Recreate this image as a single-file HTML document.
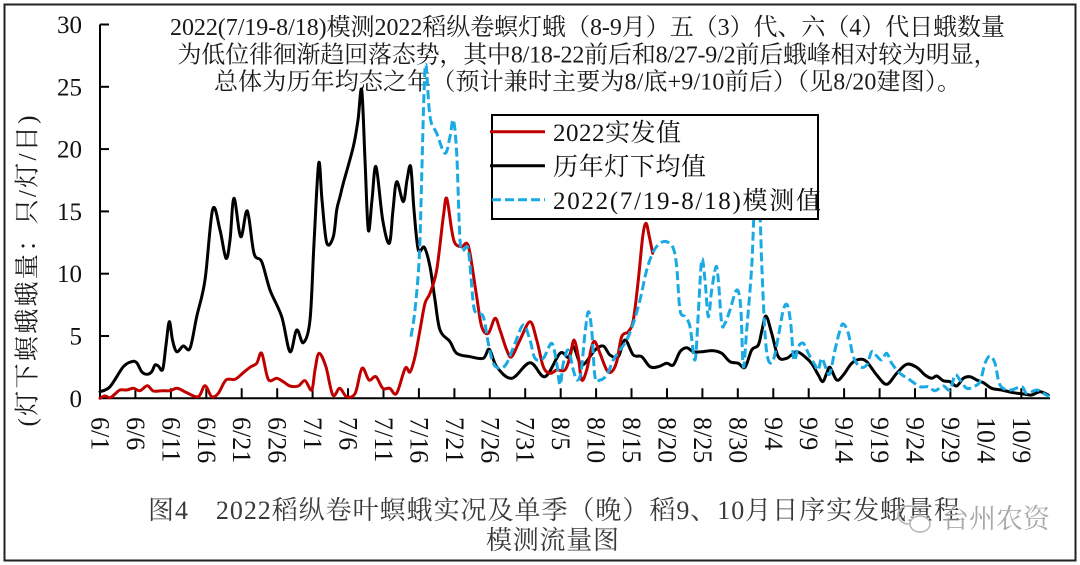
<!DOCTYPE html>
<html><head><meta charset="utf-8"><style>
html,body{margin:0;padding:0;background:#fff;}
svg{display:block;}
text{font-family:"Liberation Serif","Noto Serif CJK SC","Noto Serif CJK","Noto Sans CJK SC",serif;}
</style></head><body>
<svg id="chart" width="1080" height="565" viewBox="0 0 1080 565" xmlns="http://www.w3.org/2000/svg">
<rect x="0" y="0" width="1080" height="565" fill="#fff"/>
<rect x="4.5" y="4.5" width="1071" height="556" fill="none" stroke="#222" stroke-width="2"/>

<!-- title -->
<g font-size="24" fill="#1a1a1a" text-anchor="middle">
<text x="587.5" y="35" textLength="835" lengthAdjust="spacing">2022(7/19-8/18)模测2022稻纵卷螟灯蛾（8-9月）五（3）代、六（4）代日蛾数量</text>
<text x="587.5" y="62.5" textLength="820" lengthAdjust="spacing">为低位徘徊渐趋回落态势，其中8/18-22前后和8/27-9/2前后蛾峰相对较为明显，</text>
<text x="587.5" y="89.5" textLength="747" lengthAdjust="spacing">总体为历年均态之年（预计兼时主要为8/底+9/10前后）（见8/20建图）。</text>
</g>

<!-- y axis title -->
<text transform="translate(28,271) rotate(-90)" x="0" y="0" font-size="25" text-anchor="middle" dominant-baseline="central" fill="#1a1a1a" textLength="311" lengthAdjust="spacing">(灯下螟蛾蛾量：只/灯/日)</text>

<!-- y tick labels -->
<g font-size="25" fill="#111" text-anchor="end">
<text x="82" y="407">0</text>
<text x="82" y="344.5">5</text>
<text x="82" y="282">10</text>
<text x="82" y="220">15</text>
<text x="82" y="157.5">20</text>
<text x="82" y="95.5">25</text>
<text x="82" y="33">30</text>
</g>

<!-- axes -->
<g stroke="#000" stroke-width="2" fill="none">
<line x1="100" y1="24.5" x2="100" y2="399.3"/>
<line x1="99" y1="398.3" x2="1050" y2="398.3"/>
<line x1="100" y1="24.5" x2="109" y2="24.5"/>
<line x1="100" y1="86.8" x2="109" y2="86.8"/>
<line x1="100" y1="149.1" x2="109" y2="149.1"/>
<line x1="100" y1="211.4" x2="109" y2="211.4"/>
<line x1="100" y1="273.7" x2="109" y2="273.7"/>
<line x1="100" y1="336" x2="109" y2="336"/>
<path d="M135.4 398.3V388.3 M170.9 398.3V388.3 M206.3 398.3V388.3 M241.7 398.3V388.3 M277.2 398.3V388.3 M312.6 398.3V388.3 M348 398.3V388.3 M383.5 398.3V388.3 M418.9 398.3V388.3 M454.4 398.3V388.3 M489.8 398.3V388.3 M525.2 398.3V388.3 M560.7 398.3V388.3 M596.1 398.3V388.3 M631.5 398.3V388.3 M667 398.3V388.3 M702.4 398.3V388.3 M737.8 398.3V388.3 M773.3 398.3V388.3 M808.7 398.3V388.3 M844.1 398.3V388.3 M879.6 398.3V388.3 M915 398.3V388.3 M950.4 398.3V388.3 M985.9 398.3V388.3 M1021.3 398.3V388.3"/>
</g>

<!-- x tick labels -->
<g font-size="26" fill="#111" dominant-baseline="central">
<text transform="translate(100,417) rotate(90)">6/1</text>
<text transform="translate(135.4,417) rotate(90)">6/6</text>
<text transform="translate(170.9,417) rotate(90)">6/11</text>
<text transform="translate(206.3,417) rotate(90)">6/16</text>
<text transform="translate(241.7,417) rotate(90)">6/21</text>
<text transform="translate(277.2,417) rotate(90)">6/26</text>
<text transform="translate(312.6,417) rotate(90)">7/1</text>
<text transform="translate(348,417) rotate(90)">7/6</text>
<text transform="translate(383.5,417) rotate(90)">7/11</text>
<text transform="translate(418.9,417) rotate(90)">7/16</text>
<text transform="translate(454.4,417) rotate(90)">7/21</text>
<text transform="translate(489.8,417) rotate(90)">7/26</text>
<text transform="translate(525.2,417) rotate(90)">7/31</text>
<text transform="translate(560.7,417) rotate(90)">8/5</text>
<text transform="translate(596.1,417) rotate(90)">8/10</text>
<text transform="translate(631.5,417) rotate(90)">8/15</text>
<text transform="translate(667,417) rotate(90)">8/20</text>
<text transform="translate(702.4,417) rotate(90)">8/25</text>
<text transform="translate(737.8,417) rotate(90)">8/30</text>
<text transform="translate(773.3,417) rotate(90)">9/4</text>
<text transform="translate(808.7,417) rotate(90)">9/9</text>
<text transform="translate(844.1,417) rotate(90)">9/14</text>
<text transform="translate(879.6,417) rotate(90)">9/19</text>
<text transform="translate(915,417) rotate(90)">9/24</text>
<text transform="translate(950.4,417) rotate(90)">9/29</text>
<text transform="translate(985.9,417) rotate(90)">10/4</text>
<text transform="translate(1021.3,417) rotate(90)">10/9</text>
</g>

<!-- series: black historical average -->
<polyline class="s" fill="none" stroke="#000" stroke-width="3" stroke-linejoin="round" stroke-linecap="round" points="100,391.7 110,386.7 123.3,366.7 131.7,361.7 136.7,362.7 141.7,371.7 146.7,374.3 151.7,371.7 155,365 158.3,366 162.7,369.3 166,345 169.3,321.7 172.5,340 176.7,351.7 183.3,346 190,348.3 196.7,316.7 205,280 212.7,209.3 220,230 226,258.3 230,240 234,198.3 240.7,236.7 247.3,211 254,253.3 261.7,261.7 270,290 281.7,316.7 290,351.7 296.7,330 303.3,342.7 310,320 314,243.3 318.7,163.3 322,200 326.7,242.7 333.3,236.7 336.7,210 340,196.7 343.3,183.3 353.3,146.7 358,120 361.7,90 365,160 368.3,230 372,200 376,166.7 382.7,220 389.3,243.3 393,210 396.7,181.7 403.3,201.7 407,180 410.7,166.7 414,210 418.3,250 424.3,247.3 430,266.7 435,300 440,330 450,341.7 456.7,353.3 470,356.7 483.3,358.3 489.3,349.3 496.7,366.7 511.7,378.3 530,362.7 545,376.7 560,353.3 568.3,357.3 573.3,346.7 580,363.3 585,363.3 595,350 603.3,346 610,355 618.3,356.7 625,340 633.3,355 641.7,356.7 650,366.7 658.3,366.7 666.7,363.3 673.3,365 680,351.7 686.7,347.7 693.3,351.7 701.7,351.7 713.3,350.7 721.7,353.3 730,361.7 738.3,363.3 745,367.3 751.7,350 758.3,345 762,330 766,316 771.7,333.3 778.3,356.7 786.7,358.3 796.7,351.7 806.7,358.3 812,364 818.3,375 822.7,381.7 826.7,373.3 830,367.3 836.7,380 843.3,375 851.7,363.3 860,359.3 866.7,361.7 876.7,375 886.7,384.3 896.7,373.3 906.7,364.3 916.7,367.3 925,375 931.7,378.3 936.7,376 943.3,380.7 950,381.7 956.7,386 963.3,378.3 970,376.7 976.7,380 983.3,382.7 991.7,388.3 1001.7,390 1013.3,392.7 1023.3,394 1031.7,395 1040,391.7 1048.3,395"/>

<!-- series: red 2022 actual -->
<polyline class="s" fill="none" stroke="#c00000" stroke-width="3" stroke-linejoin="round" stroke-linecap="round" points="100,398.3 105,396 110,397.7 115,394 120,390 126.7,390 133.3,388.3 140,390.7 147.3,385.7 153.3,391 161.7,390.7 170,390.7 177.3,388.3 186.7,392.7 198.3,396.7 205,385.7 211.7,396.7 218.3,393.3 226,380 235,379.3 243.3,372.7 250,367.3 256.7,363.3 261.7,353.3 268.3,379.3 276.7,378.3 283.3,381.7 290,386 298.3,386 305,380.7 311.7,390 315,370 319,353.3 325.9,366.7 332.8,395 339.7,388.3 346.6,396.7 355.2,393.3 362,368.3 369,380 375.9,376.7 382.8,388.3 389.7,388.3 396.6,393.3 405.2,368.3 410,372 415,356.7 420,330 425,303.3 430,293.3 436.7,270 443.3,216.7 446.7,198.3 451.7,230 455,243.3 461.7,246.7 466.7,243.3 470,253.3 476.7,296.7 481.7,326.7 488.3,333.3 495,318.3 500,330 506.7,350 511.7,356.7 520,340 530,321.7 536.7,340 543.3,366.7 550,373.3 556.7,370 565,370 570,356.7 574,340 578.3,356.7 581.7,380 586.7,370 591.7,346.7 595,341.7 600,353.3 606.7,370 611.7,371.7 616.7,361.7 621.7,336.7 628.3,331.7 633.3,320 638.3,280 642.7,236.7 646,223.3 649.3,236.7 652.7,253.3"/>

<!-- series: blue dashed model -->
<polyline class="s" fill="none" stroke="#19a9e3" stroke-width="3" stroke-dasharray="9 4" stroke-linejoin="round" points="411,336.7 415,310 419.3,256.7 421.7,176.7 424,93.3 426,65 430,116.7 436.7,133.3 445,153.3 450,136.7 453.3,120 456.7,153.3 460,240 463.3,250 468.3,250 473.3,303.3 476.7,313.3 483.3,316.7 488.3,343.3 493.3,363.3 500,368.3 506.7,363.3 515,343.3 523.3,325 530,340 535,358.3 543.3,358.3 551.7,343.3 556.7,363.3 560,385 563.3,363.3 568.3,350 573.3,370 577,380 581,372 585,333.3 588.3,311.7 591.7,330 595,376.7 600,380 606.7,375 613.3,360 620,350 626.7,340 633.3,323.3 640,300 646.7,270 653.3,251.7 660,243.3 666.7,241.7 673.3,248.3 676.7,266.7 680,310 685,316.7 690,326.7 695,360 698.3,313.3 701.7,260 705,280 708.3,316.7 711.7,290 716,266.7 718.3,280 721.7,323.3 725,323.3 730,310 736.7,290 740.7,306.7 743.3,366.7 746.7,330 751.7,266.7 754,215 757,195 760,215 761.7,263.3 765,333.3 768.3,360 773.3,360 778.3,336.7 783.3,310 787.3,305 790.7,323.3 794,360 798.3,346.7 803.3,343.3 808.3,353.3 812,360 815,365 818.3,370 821.7,358.3 826.7,370 830,373.3 835,350 840,330 843.3,324 848.3,333.3 853.3,356.7 860,366.7 866.7,365 871.7,351.7 876.7,356 881.7,360 886.7,353.3 891.7,363.3 900,373.3 910,380 920,386.7 928.3,386.7 935,390.7 943.3,386 950,390 955,375 960,380 966.7,388.3 973.3,386.7 980,381.7 985,363.3 990,356 995,363.3 1000,385 1010,390 1021.7,386.7 1026.7,393.3 1036.7,390 1043.3,393.3 1049.3,396.7"/>

<!-- legend -->
<rect x="492" y="115" width="326" height="104" fill="#fff" stroke="#000" stroke-width="2"/>
<line x1="490" y1="131.7" x2="545" y2="131.7" stroke="#c00000" stroke-width="3"/>
<line x1="490" y1="165.7" x2="545" y2="165.7" stroke="#000" stroke-width="3"/>
<line x1="492" y1="199.7" x2="545" y2="199.7" stroke="#19a9e3" stroke-width="3" stroke-dasharray="9 4"/>
<g font-size="25" fill="#111">
<text x="553" y="141" textLength="128" lengthAdjust="spacing">2022实发值</text>
<text x="553" y="175" textLength="153" lengthAdjust="spacing">历年灯下均值</text>
<text x="553" y="209" textLength="268" lengthAdjust="spacing">2022(7/19-8/18)模测值</text>
</g>

<!-- caption -->
<g font-size="26" fill="#3a3a3a">
<text x="148" y="519" textLength="812" lengthAdjust="spacing">图4　2022稻纵卷叶螟蛾实况及单季（晚）稻9、10月日序实发蛾量程</text>
<text x="486" y="549" textLength="133" lengthAdjust="spacing">模测流量图</text>
</g>

<!-- watermark -->
<g fill="none" stroke="#b5b5b5" stroke-width="1.5">
<ellipse cx="909" cy="515" rx="11" ry="9"/>
<ellipse cx="920" cy="524" rx="10" ry="8" fill="#fff"/>
</g>
<text x="942" y="528" font-size="27" fill="#a8a8a8" textLength="108" lengthAdjust="spacing">台州农资</text>
</svg>
<script>
(function(){
  var NS="http://www.w3.org/2000/svg";
  var pls=document.querySelectorAll("polyline.s");
  for(var k=0;k<pls.length;k++){
    var pl=pls[k];
    var nums=pl.getAttribute("points").trim().split(/[\s,]+/).map(Number);
    var p=[];
    for(var i=0;i<nums.length;i+=2)p.push([nums[i],nums[i+1]]);
    var d="M"+p[0][0]+" "+p[0][1];
    for(var i=0;i<p.length-1;i++){
      var p0=p[i>0?i-1:i],p1=p[i],p2=p[i+1],p3=p[i+2<p.length?i+2:i+1];
      var c1x=p1[0]+(p2[0]-p0[0])/6,c1y=p1[1]+(p2[1]-p0[1])/6;
      var c2x=p2[0]-(p3[0]-p1[0])/6,c2y=p2[1]-(p3[1]-p1[1])/6;
      d+=" C"+c1x.toFixed(2)+" "+c1y.toFixed(2)+" "+c2x.toFixed(2)+" "+c2y.toFixed(2)+" "+p2[0]+" "+p2[1];
    }
    var path=document.createElementNS(NS,"path");
    ["fill","stroke","stroke-width","stroke-dasharray","stroke-linejoin","stroke-linecap"].forEach(function(a){
      var v=pl.getAttribute(a); if(v!==null)path.setAttribute(a,v);
    });
    path.setAttribute("d",d);
    pl.parentNode.replaceChild(path,pl);
  }
})();
</script>
</body></html>
